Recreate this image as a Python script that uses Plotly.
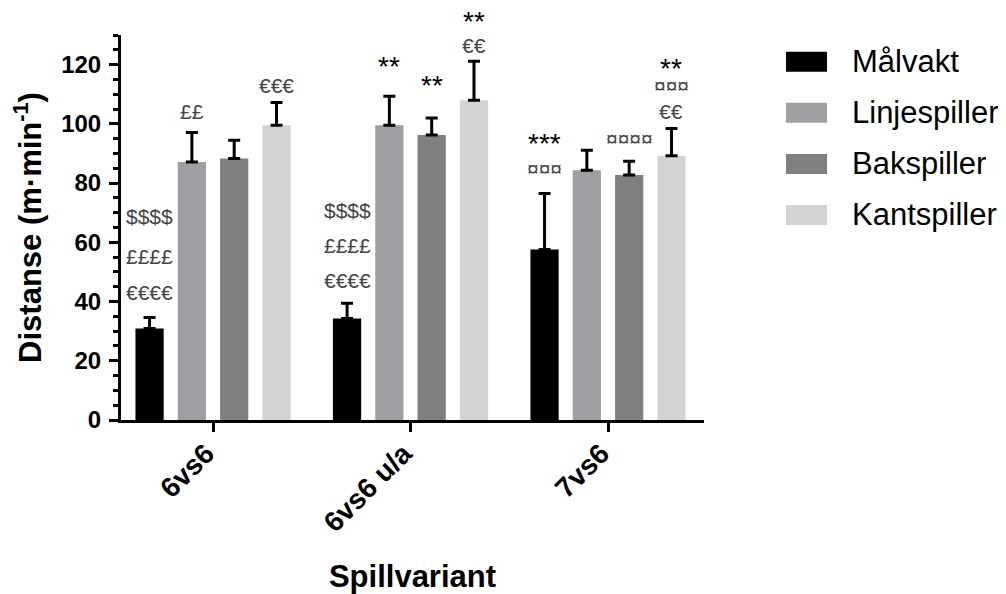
import plotly.graph_objects as go

categories = ["6vs6", "6vs6 u/a", "7vs6"]
series = ["Målvakt", "Linjespiller", "Bakspiller", "Kantspiller"]
colors = ["#000000", "#9e9ea3", "#7f7f7f", "#d3d3d3"]

malvakt = [30.9, 34.3, 57.6]
linjespiller = [87.1, 99.5, 84.3]
bakspiller = [88.3, 96.2, 82.7]
kantspiller = [99.5, 108.0, 89.2]

malvakt_sd = [3.7, 5.1, 18.9]
linjespiller_sd = [10.0, 9.8, 6.8]
bakspiller_sd = [6.2, 5.8, 4.7]
kantspiller_sd = [7.7, 13.1, 9.2]

values = [malvakt, linjespiller, bakspiller, kantspiller]
errors = [malvakt_sd, linjespiller_sd, bakspiller_sd, kantspiller_sd]

# significance labels: (category index, series index, y value, text)
sig_labels = [
    (0, 0, 42.9, "€€€€"), (0, 0, 55.1, "££££"), (0, 0, 68.8, "$$$$"),
    (0, 1, 104.0, "££"),
    (0, 3, 113.0, "€€€"),
    (1, 0, 47.2, "€€€€"), (1, 0, 59.0, "££££"), (1, 0, 70.9, "$$$$"),
    (1, 1, 120.3, "**"),
    (1, 2, 114.1, "**"),
    (1, 3, 126.5, "€€"), (1, 3, 135.5, "**"),
    (2, 0, 94.5, "***"), (2, 0, 84.9, "¤¤¤"),
    (2, 2, 95.2, "¤¤¤¤"),
    (2, 3, 104.0, "€€"), (2, 3, 113.0, "¤¤¤"), (2, 3, 119.8, "**"),
]

y_ticks = [0, 20, 40, 60, 80, 100, 120]
y_max = 130

bargap = 0.143
bargroupgap = 0.333
x_idx = list(range(len(categories)))

fig = go.Figure()
for name, col, vals, errs in zip(series, colors, values, errors):
    fig.add_trace(go.Bar(
        x=x_idx, y=vals, name=name,
        marker=dict(color=col, line=dict(width=0)),
        error_y=dict(type="data", array=errs, arrayminus=[0] * len(errs),
                     symmetric=False, color="black", thickness=3, width=6),
        showlegend=False,
    ))

slot = (1 - bargap) / len(series)
annotations = []
for ci, si, yv, txt in sig_labels:
    is_star = "*" in txt
    annotations.append(dict(
        x=ci + (si - (len(series) - 1) / 2) * slot, y=yv / y_max,
        xref="x", yref="paper", text=txt, showarrow=False,
        xanchor="center", yanchor="middle",
        yshift=-3 if is_star else 0,
        font=dict(family="Liberation Sans", size=28 if is_star else 21,
                  color="#000000" if is_star else "#444444"),
    ))

# custom legend
shapes = []
row0 = (420 - 61.7) / 385.0
row_step = 51.1 / 385.0
half_h = 10.0 / 385.0
for k, (name, col) in enumerate(zip(series, colors)):
    yc = row0 - k * row_step
    shapes.append(dict(type="rect", xref="paper", yref="paper",
                       x0=1.1407, x1=1.2110, y0=yc - half_h, y1=yc + half_h,
                       fillcolor=col, line=dict(width=0)))
    annotations.append(dict(x=1.2504, y=yc, xref="paper", yref="paper",
                            text=name, showarrow=False, xanchor="left",
                            yanchor="middle",
                            font=dict(family="Liberation Sans", size=31,
                                      color="#000000")))

# page body has an 8px margin: size the figure so it fits the window
fig.update_layout(
    width=998, height=586,
    margin=dict(l=113, r=302, t=27, b=174, autoexpand=False),
    paper_bgcolor="white", plot_bgcolor="white",
    barmode="group", bargap=bargap, bargroupgap=bargroupgap,
    annotations=annotations, shapes=shapes,
    font=dict(family="Liberation Sans", color="black"),
)

fig.update_xaxes(
    range=[-0.466, 2.486], automargin=False,
    tickmode="array", tickvals=x_idx, ticktext=categories,
    tickangle=-45, ticklabelshift=-7, ticklabelstandoff=-6,
    showline=True, linecolor="black", linewidth=3,
    ticks="outside", ticklen=9, tickwidth=3, tickcolor="black",
    showgrid=False, zeroline=False,
    tickfont=dict(family="Liberation Sans", size=28, color="black", weight="bold"),
    title=dict(text="Spillvariant", standoff=36,
               font=dict(family="Liberation Sans", size=31, color="black", weight="bold")),
)
fig.update_yaxes(
    range=[0, y_max], automargin=False,
    tickmode="array", tickvals=y_ticks, ticklabelstandoff=3,
    showline=True, linecolor="black", linewidth=3,
    ticks="outside", ticklen=9, tickwidth=3, tickcolor="black",
    minor=dict(dtick=5, ticks="outside", ticklen=5, tickwidth=3, tickcolor="black", showgrid=False),
    showgrid=False, zeroline=False,
    tickfont=dict(family="Liberation Sans", size=24, color="black", weight="bold"),
    title=dict(text="Distanse (m·min<sup>-1</sup>)", standoff=11,
               font=dict(family="Liberation Sans", size=31, color="black", weight="bold")),
)

fig.write_html("out.html")
